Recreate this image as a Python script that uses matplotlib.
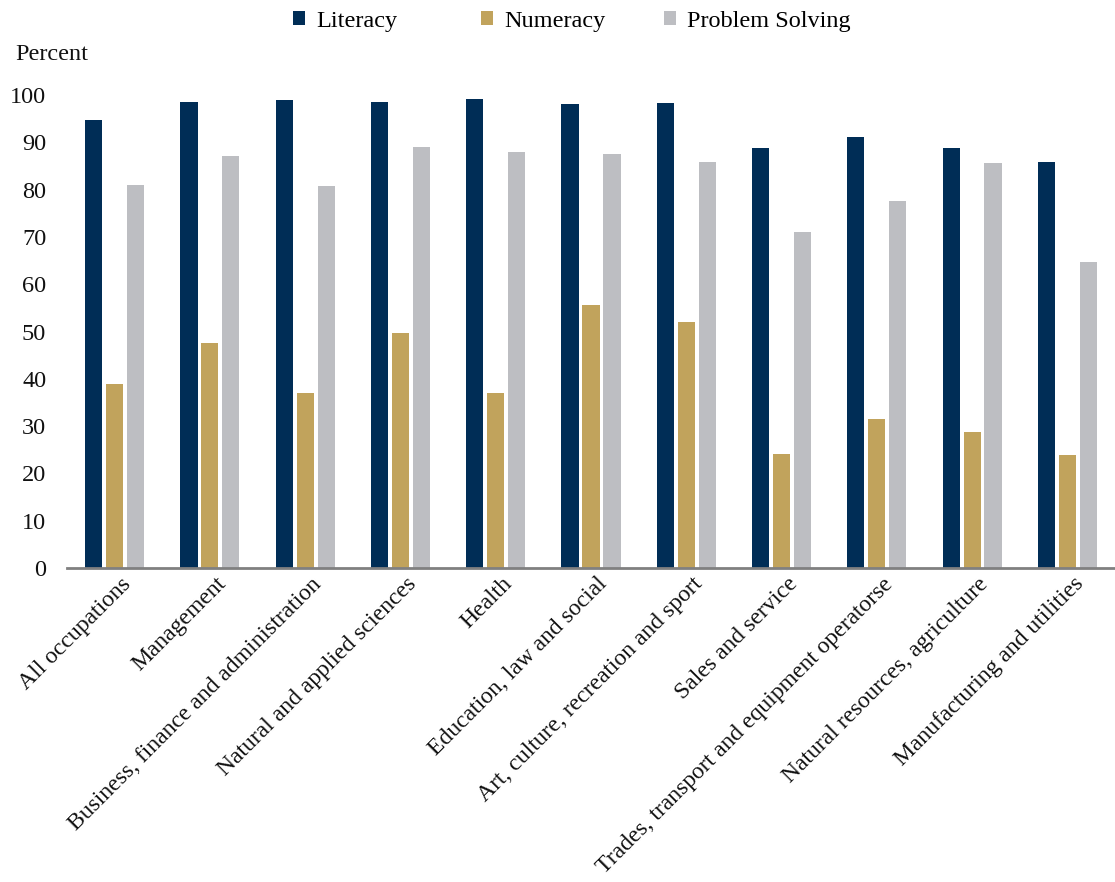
import matplotlib
matplotlib.use("Agg")
import matplotlib.pyplot as plt
import numpy as np

categories = ["All occupations", "Management", "Business, finance and administration",
              "Natural and applied sciences", "Health", "Education, law and social",
              "Art, culture, recreation and sport", "Sales and service",
              "Trades, transport and equipment operatorse", "Natural resources, agriculture",
              "Manufacturing and utilities"]
literacy = [94.8, 98.5, 98.9, 98.5, 99.1, 98.0, 98.3, 88.7, 91.2, 88.7, 85.9]
numeracy = [38.8, 47.6, 36.9, 49.6, 37.1, 55.5, 52.1, 24.2, 31.5, 28.7, 23.9]
problem_solving = [81.0, 87.2, 80.7, 89.0, 87.9, 87.5, 85.8, 71.1, 77.6, 85.6, 64.6]
series_names = ["Literacy", "Numeracy", "Problem Solving"]
yticks = [0, 10, 20, 30, 40, 50, 60, 70, 80, 90, 100]

colors = ["#002d56", "#c1a35c", "#bdbec2"]
plt.rcParams['font.family'] = ['Liberation Serif', 'DejaVu Serif']
FS = 17.5

fig = plt.figure(figsize=(11.15, 8.82), dpi=100)
ax = fig.add_axes([67/1115, 1-568/882, (1115-67)/1115, (568-95)/882])

x = np.arange(len(categories))
w = 0.18
offs = [-0.22, 0.0, 0.22]
bars = []
for vals, off, c, name in zip([literacy, numeracy, problem_solving], offs, colors, series_names):
    bars.append(ax.bar(x + off, vals, width=w, color=c, label=name, zorder=2))

ax.set_xlim(-0.5, len(categories) - 0.5)
ax.set_ylim(0, 100)
ax.set_yticks(yticks)
ax.tick_params(axis='y', length=0, pad=15, labelsize=FS, colors='#111111')
ax.tick_params(axis='x', length=0, pad=4)
ax.set_xticks(x + 0.06)
ax.set_xticklabels(categories, rotation=45, ha='right', rotation_mode='anchor',
                   fontsize=17, color='#111111')
for s in ['top', 'right', 'left']:
    ax.spines[s].set_visible(False)
ax.spines['bottom'].set_color('#808080')
ax.spines['bottom'].set_linewidth(2)

fig.text(15/1115, 1-55/882, "Percent", fontsize=FS, va='center', ha='left', color='#111111')

leg_x = [293, 481, 664]
for b, name, lx in zip(bars, series_names, leg_x):
    lg = fig.legend([b], [name], loc='center left', bbox_to_anchor=(lx/1115, 1-21/882),
                    frameon=False, fontsize=FS, handlelength=0.5, handleheight=0.5,
                    handletextpad=0.45, borderaxespad=0, borderpad=0)

fig.savefig("out.png", dpi=100)
